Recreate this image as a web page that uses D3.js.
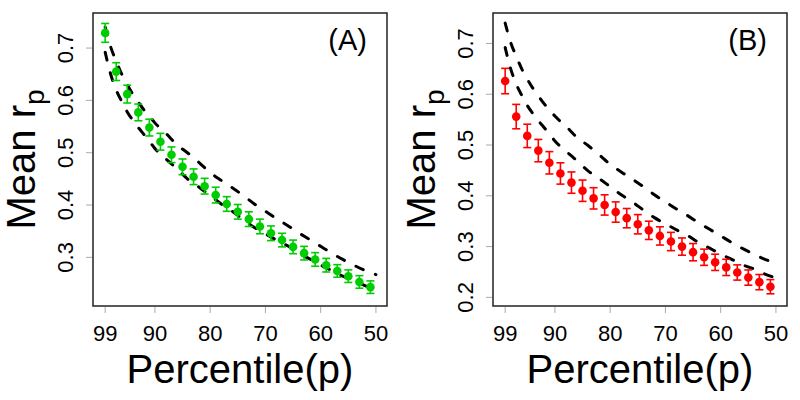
<!DOCTYPE html>
<html>
<head>
<meta charset="utf-8">
<script src="https://cdn.jsdelivr.net/npm/d3@7"></script>
<style>
  html, body { margin: 0; padding: 0; background: #fff; }
  svg { display: block; font-family: "Liberation Sans", Arial, sans-serif; }
</style>
</head>
<body>
<svg id="chart" width="800" height="400"></svg>
<script>
// ---- data ----
const percentiles = [99, 97, 95, 93, 91, 89, 87, 85, 83, 81, 79, 77, 75, 73, 71, 69, 67, 65, 63, 61, 59, 57, 55, 53, 51];
const meanA = [0.729, 0.655, 0.612, 0.577, 0.548, 0.521, 0.496, 0.473, 0.454, 0.436, 0.419, 0.402, 0.387, 0.373, 0.359, 0.346, 0.333, 0.320, 0.308, 0.296, 0.285, 0.274, 0.264, 0.253, 0.243];
const errA  = [0.018, 0.017, 0.017, 0.016, 0.016, 0.016, 0.015, 0.015, 0.015, 0.015, 0.015, 0.014, 0.014, 0.014, 0.014, 0.014, 0.013, 0.013, 0.013, 0.013, 0.013, 0.012, 0.012, 0.012, 0.012];
const meanB = [0.626, 0.556, 0.518, 0.489, 0.465, 0.444, 0.426, 0.410, 0.395, 0.382, 0.368, 0.356, 0.344, 0.332, 0.321, 0.310, 0.300, 0.289, 0.279, 0.269, 0.259, 0.249, 0.239, 0.230, 0.221];
const errB  = [0.025, 0.024, 0.023, 0.022, 0.022, 0.021, 0.021, 0.021, 0.021, 0.020, 0.020, 0.019, 0.019, 0.018, 0.018, 0.018, 0.017, 0.017, 0.016, 0.016, 0.016, 0.015, 0.015, 0.015, 0.014];

const curvePct = [99, 98, 97, 96, 95, 94, 93, 92, 91, 90, 88, 86, 84, 82, 80, 78, 76, 74, 72, 70, 68, 66, 64, 62, 60, 58, 56, 54, 52, 50];
const upperCurve = [0.740, 0.702, 0.675, 0.650, 0.630, 0.612, 0.597, 0.582, 0.570, 0.557, 0.537, 0.515, 0.499, 0.481, 0.462, 0.447, 0.433, 0.418, 0.402, 0.388, 0.374, 0.361, 0.347, 0.334, 0.321, 0.308, 0.296, 0.285, 0.275, 0.267];
const lowerCurve = [0.692, 0.650, 0.620, 0.598, 0.578, 0.562, 0.548, 0.535, 0.522, 0.508, 0.488, 0.469, 0.449, 0.434, 0.418, 0.402, 0.388, 0.372, 0.357, 0.345, 0.333, 0.322, 0.308, 0.297, 0.285, 0.275, 0.264, 0.256, 0.246, 0.238];

const xTicks = [99, 90, 80, 70, 60, 50];
const yTicksA = [0.3, 0.4, 0.5, 0.6, 0.7];
const yTicksB = [0.2, 0.3, 0.4, 0.5, 0.6, 0.7];

const panels = [
  { label: "(A)", mean: meanA, err: errA, color: "#00CD00", yDomain: [0.207, 0.767], yTicks: yTicksA, offset: 0 },
  { label: "(B)", mean: meanB, err: errB, color: "#FF0000", yDomain: [0.183, 0.760], yTicks: yTicksB, offset: 400 }
];

const svg = d3.select("#chart");
const box = { left: 93, right: 387, top: 13, bottom: 306 };

panels.forEach(P => {
  const g = svg.append("g").attr("transform", `translate(${P.offset},0)`);
  const x = d3.scaleLinear().domain([101.2, 48]).range([box.left, box.right]);
  const y = d3.scaleLinear().domain(P.yDomain).range([box.bottom, box.top]);

  // dashed reference curves
  const line = d3.line().x(d => x(d[0])).y(d => y(d[1])).curve(d3.curveMonotoneX);
  [upperCurve, lowerCurve].forEach(c => {
    g.append("path")
      .datum(curvePct.map((p, i) => [p, c[i]]))
      .attr("d", line)
      .attr("fill", "none")
      .attr("stroke", "#000")
      .attr("stroke-width", 3)
      .attr("stroke-linecap", "round")
      .attr("stroke-dasharray", "8,13");
  });

  // error bars
  const data = percentiles.map((p, i) => ({ p, m: P.mean[i], e: P.err[i] }));
  const eb = g.append("g").attr("stroke", P.color).attr("stroke-width", 1.6);
  data.forEach(d => {
    const cx = x(d.p), y0 = y(d.m - d.e), y1 = y(d.m + d.e);
    eb.append("line").attr("x1", cx).attr("x2", cx).attr("y1", y0).attr("y2", y1);
    eb.append("line").attr("x1", cx - 4).attr("x2", cx + 4).attr("y1", y0).attr("y2", y0);
    eb.append("line").attr("x1", cx - 4).attr("x2", cx + 4).attr("y1", y1).attr("y2", y1);
  });
  g.append("g").selectAll("circle").data(data).join("circle")
    .attr("cx", d => x(d.p)).attr("cy", d => y(d.m)).attr("r", 4.3)
    .attr("fill", P.color);

  // box
  g.append("rect")
    .attr("x", box.left).attr("y", box.top)
    .attr("width", box.right - box.left).attr("height", box.bottom - box.top)
    .attr("fill", "none").attr("stroke", "#222").attr("stroke-width", 1.5);

  // x axis ticks
  const xa = g.append("g");
  xTicks.forEach(t => {
    xa.append("line").attr("x1", x(t)).attr("x2", x(t)).attr("y1", box.bottom + 1).attr("y2", box.bottom + 7)
      .attr("stroke", "#aaa").attr("stroke-width", 1);
    xa.append("text").attr("x", x(t)).attr("y", 341).attr("text-anchor", "middle")
      .attr("font-size", 22).attr("fill", "#000").text(t);
  });

  // y axis ticks
  const ya = g.append("g");
  P.yTicks.forEach(t => {
    ya.append("line").attr("x1", box.left - 7).attr("x2", box.left - 1).attr("y1", y(t)).attr("y2", y(t))
      .attr("stroke", "#aaa").attr("stroke-width", 1);
    ya.append("text").attr("transform", `translate(73,${y(t)}) rotate(-90)`)
      .attr("text-anchor", "middle").attr("font-size", 22).attr("fill", "#000").text(d3.format(".1f")(t));
  });

  // axis titles
  g.append("text").attr("x", (box.left + box.right) / 2).attr("y", 383)
    .attr("text-anchor", "middle").attr("font-size", 40).attr("fill", "#000").text("Percentile(p)");
  const yt = g.append("text").attr("transform", `translate(35,${(box.top + box.bottom) / 2}) rotate(-90)`)
    .attr("text-anchor", "middle").attr("font-size", 40).attr("fill", "#000");
  yt.append("tspan").text("Mean r");
  yt.append("tspan").attr("font-size", 28).attr("dy", 9).text("p");

  // panel label
  g.append("text").attr("x", 367).attr("y", 50).attr("text-anchor", "end")
    .attr("font-size", 29).attr("fill", "#000").text(P.label);
});
</script>
</body>
</html>
